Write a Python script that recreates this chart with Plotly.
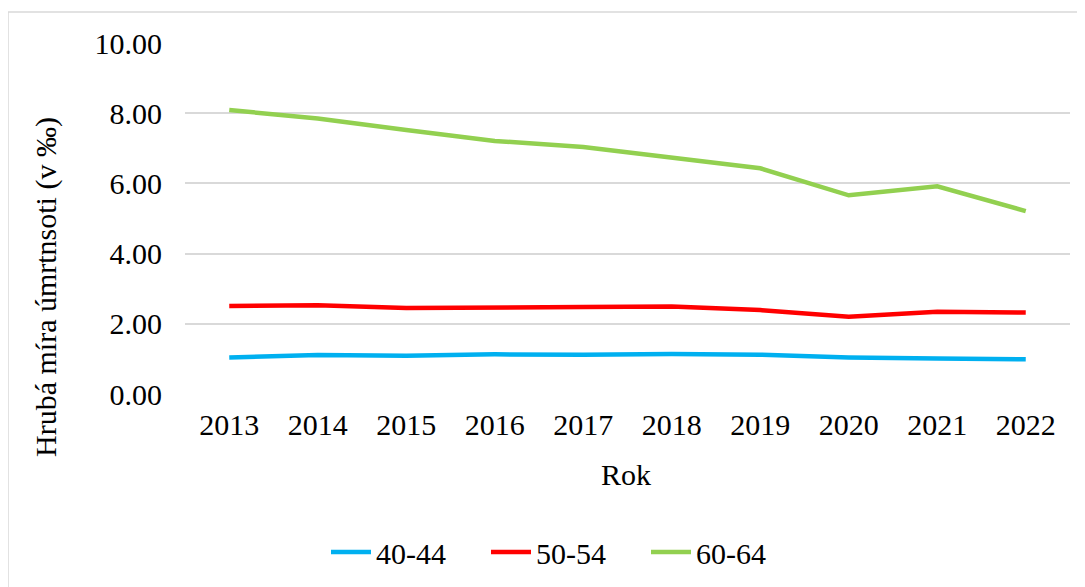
"""
line chart of crude mortality rate by age group, 2013-2022
"""

import plotly.graph_objs as go

years = ["2013", "2014", "2015", "2016", "2017", "2018", "2019", "2020", "2021", "2022"]
age_40_44 = [1.04, 1.11, 1.09, 1.13, 1.12, 1.14, 1.12, 1.04, 1.01, 0.99]
age_50_54 = [2.51, 2.53, 2.45, 2.45, 2.48, 2.49, 2.39, 2.20, 2.34, 2.32]
age_60_64 = [8.09, 7.85, 7.52, 7.21, 7.04, 6.72, 6.43, 5.66, 5.92, 5.21]

series_names = ["40-44", "50-54", "60-64"]
series_colors = ["#00B0F0", "#FF0000", "#92D050"]

W, H = 1085, 587
# page body has an 8px margin, so shift everything up-left by that
OFF = 8
# plot area in (window) pixels
L, R, T, B = 185 - OFF, 1070 - OFF, 43 - OFF, 394 - OFF
FONT = "Liberation Serif"


def px_x(x):
    return (x - OFF - L) / (R - L)


def px_y(y):
    return (B - (y - OFF)) / (B - T)


fig = go.Figure()
for name, vals, color in zip(series_names, [age_40_44, age_50_54, age_60_64], series_colors):
    fig.add_trace(go.Scatter(
        x=years,
        y=vals,
        mode="lines",
        name=name,
        line=dict(color=color, width=4.5),
    ))

fig.update_layout(
    width=W,
    height=H,
    margin=dict(l=L, r=W - R, t=T, b=H - B),
    plot_bgcolor="white",
    paper_bgcolor="white",
    font=dict(family=FONT, size=30, color="black"),
    showlegend=True,
    legend=dict(
        orientation="h",
        xref="container",
        yref="container",
        x=(566 - OFF) / W,
        y=1 - (552 - OFF) / H,
        xanchor="center",
        yanchor="middle",
        font=dict(family=FONT, size=30),
        itemwidth=40,
        entrywidth=105,
        entrywidthmode="pixels",
        traceorder="normal",
    ),
    xaxis=dict(
        type="category",
        range=[-0.5, len(years) - 0.5],
        showgrid=False,
        showline=False,
        zeroline=False,
        ticks="",
        ticklabelstandoff=10,
    ),
    yaxis=dict(
        range=[0, 10],
        tickvals=[0, 2, 4, 6, 8, 10],
        tickformat=".2f",
        showgrid=True,
        gridcolor="#D9D9D9",
        gridwidth=1.5,
        zeroline=False,
        showline=False,
        ticks="",
        ticklabelstandoff=22,
    ),
    annotations=[
        dict(
            text="Hrubá míra úmrtnsoti (v ‰)",
            xref="paper", yref="paper",
            x=px_x(46), y=px_y(287),
            xanchor="center", yanchor="middle",
            textangle=-90,
            showarrow=False,
            font=dict(family=FONT, size=30),
        ),
        dict(
            text="Rok",
            xref="paper", yref="paper",
            x=px_x(626), y=px_y(474),
            xanchor="center", yanchor="middle",
            showarrow=False,
            font=dict(family=FONT, size=30),
        ),
    ],
    shapes=[
        dict(type="line", xref="paper", yref="paper",
             x0=px_x(8), x1=px_x(W + 20), y0=px_y(12), y1=px_y(12),
             line=dict(color="#D9D9D9", width=1.5)),
        dict(type="line", xref="paper", yref="paper",
             x0=px_x(8), x1=px_x(8), y0=px_y(12), y1=px_y(H + 20),
             line=dict(color="#D9D9D9", width=1.5)),
    ],
)

fig.write_html("out.html")
